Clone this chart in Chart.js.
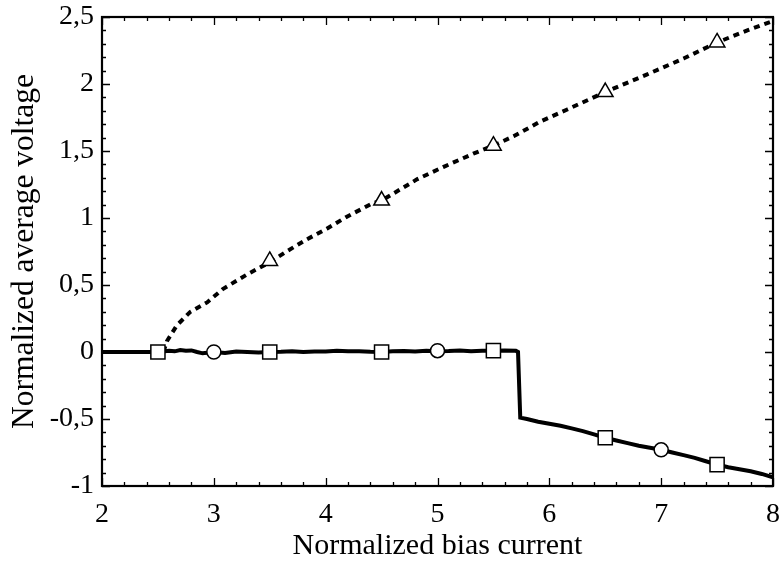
<!DOCTYPE html>
<html>
<head>
<meta charset="utf-8">
<script src="https://cdn.jsdelivr.net/npm/chart.js@4"></script>
<style>
html, body { margin: 0; padding: 0; background: #fff; }
</style>
</head>
<body>
<canvas id="myChart" width="781" height="566"></canvas>
<script>
// solid curve (squares / circles)
let solidX = [2, 2.2, 2.4, 2.5, 2.6, 2.65, 2.7, 2.75, 2.8, 2.85, 2.9, 3, 3.1, 3.2, 3.3, 3.4, 3.5, 3.6, 3.7, 3.8, 3.9, 4, 4.1, 4.2, 4.3, 4.4, 4.5, 4.6, 4.7, 4.8, 4.9, 5, 5.1, 5.2, 5.3, 5.4, 5.5, 5.6, 5.7, 5.72, 5.74, 5.8, 5.9, 6, 6.1, 6.2, 6.3, 6.4, 6.5, 6.6, 6.7, 6.8, 6.9, 7, 7.1, 7.2, 7.3, 7.4, 7.5, 7.6, 7.7, 7.8, 7.9, 8];
let solidY = [0, 0, 0, 0, 0.01, 0.005, 0.015, 0.01, 0.012, 0, -0.01, 0, -0.008, 0.004, 0, -0.003, 0, 0.002, 0.006, 0, 0.003, 0.004, 0.01, 0.005, 0.006, 0.002, 0, 0.005, 0.008, 0.004, 0.01, 0.005, 0.007, 0.012, 0.006, 0.01, 0.01, 0.012, 0.01, 0, -0.49, -0.5, -0.52, -0.535, -0.55, -0.57, -0.59, -0.615, -0.64, -0.66, -0.68, -0.7, -0.715, -0.73, -0.75, -0.77, -0.79, -0.815, -0.84, -0.86, -0.875, -0.89, -0.91, -0.935];

// dotted curve (triangles)
let dotX = [2.55, 2.58, 2.67, 2.79, 2.94, 3.08, 3.3, 3.5, 3.65, 3.83, 4.01, 4.19, 4.42, 4.5, 4.82, 5.05, 5.32, 5.5, 5.68, 5.92, 6.16, 6.5, 6.87, 7.2, 7.5, 7.77, 8];
let dotY = [0, 0.08, 0.2, 0.3, 0.37, 0.47, 0.58, 0.67, 0.75, 0.84, 0.92, 1.01, 1.11, 1.13, 1.29, 1.38, 1.48, 1.54, 1.61, 1.72, 1.81, 1.94, 2.07, 2.19, 2.31, 2.4, 2.47];

// markers
let squareX = [2.5, 3.5, 4.5, 5.5, 6.5, 7.5];
let squareY = [0, 0, 0, 0.01, -0.64, -0.84];
let circleX = [3, 5, 7];
let circleY = [0, 0.01, -0.73];
let triangleX = [3.5, 4.5, 5.5, 6.5, 7.5];
let triangleY = [0.68, 1.13, 1.54, 1.94, 2.31];

function pts(xs, ys) {
  return xs.map((x, i) => ({x: x, y: ys[i]}));
}

const serif = "'Liberation Serif', 'Times New Roman', serif";

// frame + inward ticks on all four sides
const frameTicks = {
  id: 'frameTicks',
  afterDatasetsDraw(chart) {
    const {ctx, chartArea: a, scales} = chart;
    const x = scales.x, y = scales.y;
    ctx.save();
    ctx.strokeStyle = '#000';
    ctx.lineWidth = 1.3;
    ctx.beginPath();
    for (let i = 0; i <= 30; i++) {
      const px = Math.round(x.getPixelForValue(2 + i * 0.2)) + 0.5;
      const len = i % 5 === 0 ? 8 : 4;
      ctx.moveTo(px, a.bottom); ctx.lineTo(px, a.bottom - len);
      ctx.moveTo(px, a.top); ctx.lineTo(px, a.top + len);
    }
    for (let i = 0; i <= 35; i++) {
      const py = Math.round(y.getPixelForValue(-1 + i * 0.1)) + 0.5;
      const len = i % 5 === 0 ? 8 : 4;
      ctx.moveTo(a.left, py); ctx.lineTo(a.left + len, py);
      ctx.moveTo(a.right, py); ctx.lineTo(a.right - len, py);
    }
    ctx.stroke();
    ctx.lineWidth = 2.2;
    ctx.strokeRect(a.left, a.top, a.right - a.left, a.bottom - a.top);
    ctx.restore();
  }
};

const markerStyle = {
  showLine: false,
  borderColor: '#000',
  backgroundColor: '#fff',
  pointBorderWidth: 1.5,
  pointHoverRadius: 0
};

new Chart('myChart', {
  type: 'scatter',
  data: {
    datasets: [{
      label: 'triangles',
      data: pts(triangleX, triangleY),
      pointStyle: 'triangle',
      pointRadius: 9,
      ...markerStyle
    }, {
      label: 'squares',
      data: pts(squareX, squareY),
      pointStyle: 'rect',
      pointRadius: 10,
      ...markerStyle
    }, {
      label: 'circles',
      data: pts(circleX, circleY),
      pointStyle: 'circle',
      pointRadius: 7,
      ...markerStyle
    }, {
      label: 'dotted',
      data: pts(dotX, dotY),
      showLine: true,
      pointRadius: 0,
      borderColor: '#000',
      borderWidth: 4,
      borderDash: [6, 5],
      tension: 0
    }, {
      label: 'solid',
      data: pts(solidX, solidY),
      showLine: true,
      pointRadius: 0,
      borderColor: '#000',
      borderWidth: 4,
      tension: 0
    }]
  },
  options: {
    responsive: false,
    animation: false,
    events: [],
    layout: {autoPadding: false, padding: {left: 0, right: 8, top: 17, bottom: 0}},
    plugins: {
      legend: {display: false},
      tooltip: {enabled: false}
    },
    scales: {
      x: {
        type: 'linear',
        min: 2,
        max: 8,
        grid: {display: false, drawTicks: false},
        border: {display: false},
        ticks: {
          stepSize: 1,
          padding: 12,
          color: '#000',
          font: {family: serif, size: 28}
        },
        title: {
          display: true,
          text: 'Normalized bias current',
          color: '#000',
          font: {family: serif, size: 30},
          padding: {top: 0, bottom: 2}
        },
        afterFit(scale) {
          scale.height = 80;
          scale.paddingLeft = 0;
          scale.paddingRight = 0;
        }
      },
      y: {
        type: 'linear',
        min: -1,
        max: 2.5,
        grid: {display: false, drawTicks: false},
        border: {display: false},
        ticks: {
          stepSize: 0.5,
          padding: 8,
          color: '#000',
          font: {family: serif, size: 28},
          callback: v => String(v).replace('.', ',')
        },
        title: {
          display: true,
          text: 'Normalized average voltage',
          color: '#000',
          font: {family: serif, size: 31.5},
          padding: {top: 6, bottom: 0}
        },
        afterFit(scale) {
          scale.width = 102;
          scale.paddingTop = 0;
          scale.paddingBottom = 0;
        }
      }
    }
  },
  plugins: [frameTicks]
});
</script>
</body>
</html>
